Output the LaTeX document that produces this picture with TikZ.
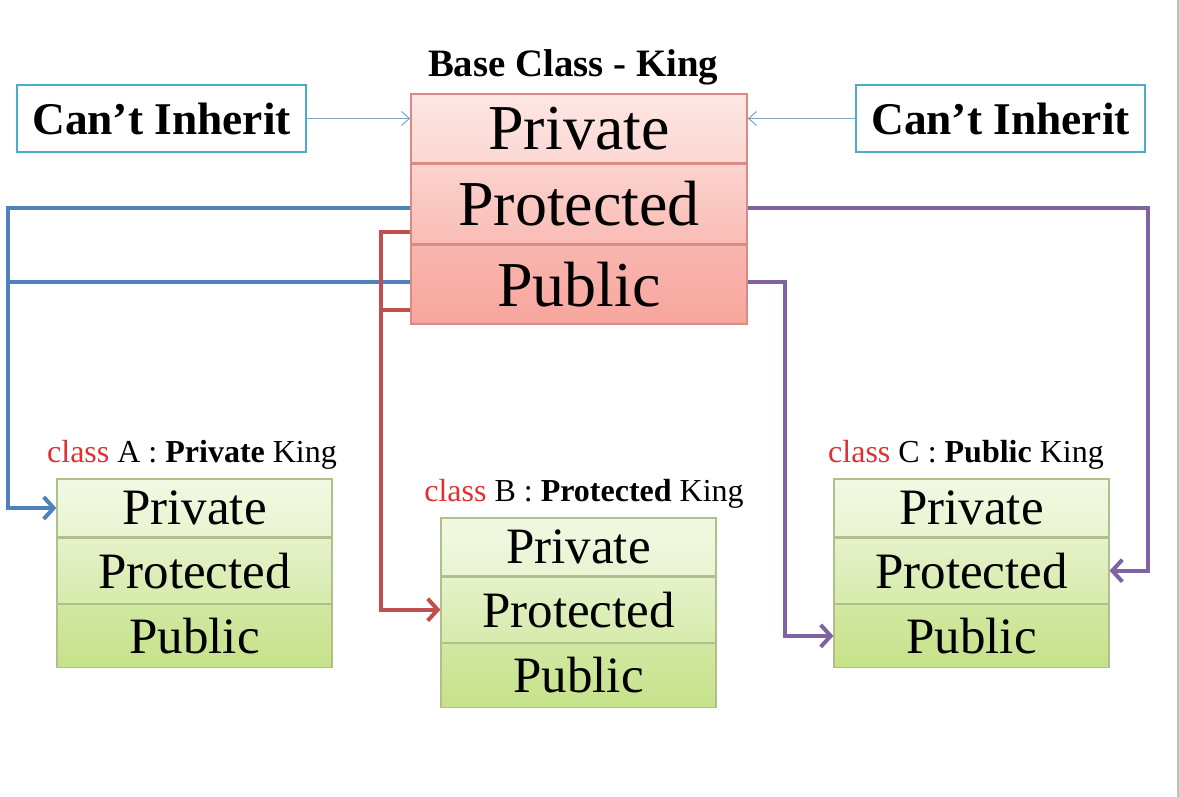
\documentclass[tikz,border=0pt]{standalone}
\usepackage{fontspec}
\setmainfont{Liberation Serif}
\usetikzlibrary{calc}
\usetikzlibrary{arrows.meta, positioning}

\definecolor{kingline}{HTML}{D98A84}
\definecolor{kingtop}{HTML}{FDE6E3}
\definecolor{kingmid}{HTML}{FAC6C0}
\definecolor{kingbot}{HTML}{F7A69D}
\definecolor{subline}{HTML}{AFC08C}
\definecolor{subtop}{HTML}{F2F8E2}
\definecolor{submid}{HTML}{DDEEBA}
\definecolor{subbot}{HTML}{C6E28A}
\definecolor{noteline}{HTML}{4BACC6}
\definecolor{thinarrow}{HTML}{7FA4C8}
\definecolor{privcol}{HTML}{4F81BD}
\definecolor{protcol}{HTML}{C0504D}
\definecolor{pubcol}{HTML}{8064A2}
\definecolor{classred}{HTML}{E03030}

\begin{document}
\begin{tikzpicture}[
    x=0.5pt, y=-0.5pt,
    every node/.style={inner sep=0pt},
    kingrow/.style={draw=kingline, line width=0.8pt, minimum width=168pt, font=\fontsize{32}{32}\selectfont},
    subrow/.style={draw=subline, line width=0.6pt, minimum width=137.5pt, font=\fontsize{25.5}{25.5}\selectfont},
    notebox/.style={draw=noteline, line width=1.2pt, fill=white, minimum width=144.5pt, minimum height=33.5pt,
        font=\fontsize{22.7}{22.7}\selectfont\bfseries},
    classlabel/.style={font=\fontsize{16}{16}\selectfont},
    link/.style={-{Straight Barb[length=5pt, width=11pt, line width=2pt]}, line width=2pt},
    thin/.style={-{Straight Barb[length=4pt, width=7pt]}, line width=0.5pt, thinarrow}
]
\useasboundingbox[fill=white] (0,0) rectangle (1179,797);
\draw[black!25, line width=1pt] (1177.5,0) -- (1177.5,797);

% Base class
\node[font=\fontsize{19.4}{19.4}\selectfont\bfseries] (title) at (573,67) {Base Class - King};
\node[kingrow, minimum height=34.5pt, top color=kingtop, bottom color=kingtop!55!kingmid] (kpriv) at (579,128.5) {Private};
\node[kingrow, minimum height=39.5pt, below=0pt of kpriv, top color=kingtop!40!kingmid, bottom color=kingmid!70!kingbot] (kprot) {Protected};
\node[kingrow, minimum height=39.5pt, below=0pt of kprot, top color=kingmid!50!kingbot, bottom color=kingbot] (kpub) {Public};

\node[notebox] (nleft) at (161.5,118.5) {Can’t Inherit};
\node[notebox] (nright) at (1000.5,118.5) {Can’t Inherit};
\draw[thin] (nleft.east) -- (kpriv.west |- nleft.east);
\draw[thin] (nright.west) -- (kpriv.east |- nright.west);

% class A
\node[classlabel] (la) at (192,455) {\textcolor{classred}{class} A : \textbf{Private} King};
\node[subrow, minimum height=29pt, top color=subtop, bottom color=subtop!60!submid] (apriv) at (194.5,508) {Private};
\node[subrow, minimum height=32.5pt, below=0pt of apriv, top color=subtop!40!submid, bottom color=submid!70!subbot] (aprot) {Protected};
\node[subrow, minimum height=31.5pt, below=0pt of aprot, top color=submid!50!subbot, bottom color=subbot] (apub) {Public};

% class B
\node[classlabel] (lb) at (584,494) {\textcolor{classred}{class} B : \textbf{Protected} King};
\node[subrow, minimum height=29pt, top color=subtop, bottom color=subtop!60!submid] (bpriv) at (578.5,547) {Private};
\node[subrow, minimum height=32.5pt, below=0pt of bpriv, top color=subtop!40!submid, bottom color=submid!70!subbot] (bprot) {Protected};
\node[subrow, minimum height=32pt, below=0pt of bprot, top color=submid!50!subbot, bottom color=subbot] (bpub) {Public};

% class C
\node[classlabel] (lc) at (966,455) {\textcolor{classred}{class} C : \textbf{Public} King};
\node[subrow, minimum height=29pt, top color=subtop, bottom color=subtop!60!submid] (cpriv) at (971.5,508) {Private};
\node[subrow, minimum height=32.5pt, below=0pt of cpriv, top color=subtop!40!submid, bottom color=submid!70!subbot] (cprot) {Protected};
\node[subrow, minimum height=31.5pt, below=0pt of cprot, top color=submid!50!subbot, bottom color=subbot] (cpub) {Public};

% private inheritance
\coordinate (bluex) at (8,0);
\draw[line width=2pt, privcol] (kpub.west |- 0,282) -- (bluex |- 0,282);
\draw[link, privcol] (kprot.west |- 0,208) -- (bluex |- 0,208) |- (apriv.west);

% protected inheritance
\coordinate (redx) at (381,0);
\draw[line width=2pt, protcol] (kpub.west |- 0,310) -- (redx |- 0,310);
\draw[link, protcol] (kprot.west |- 0,232) -- (redx |- 0,232) |- (bprot.west);

% public inheritance
\coordinate (purx) at (1148,0);
\coordinate (purx2) at (785,0);
\draw[link, pubcol] (kprot.east |- 0,208) -- (purx |- 0,208) |- (cprot.east);
\draw[link, pubcol] (kpub.east |- 0,282) -- (purx2 |- 0,282) |- (cpub.west);

\end{tikzpicture}
\end{document}
